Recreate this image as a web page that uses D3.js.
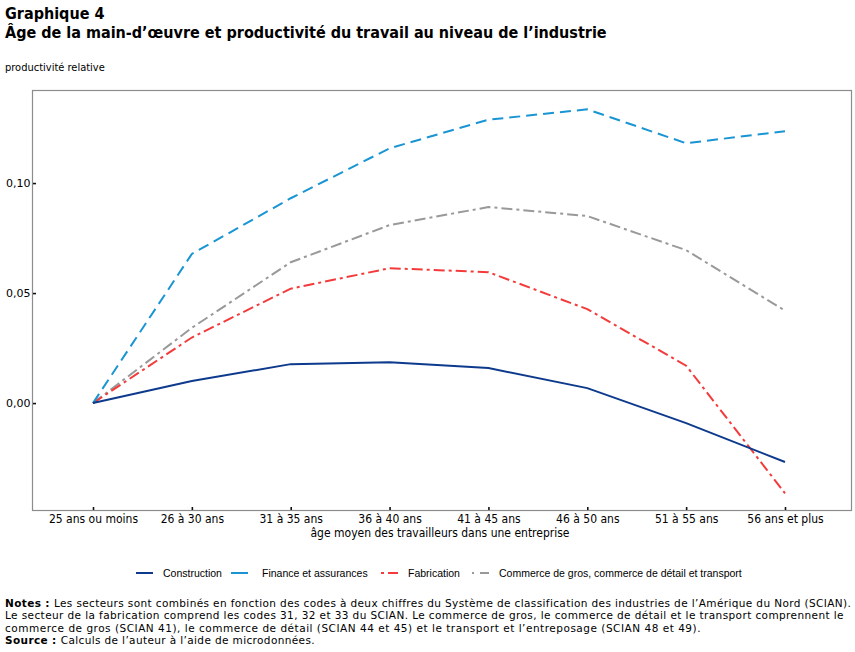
<!DOCTYPE html>
<html><head><meta charset="utf-8">
<script src="https://cdn.jsdelivr.net/npm/d3@7"></script>
<style>
body{margin:0;background:#fff;}
svg text{fill:#000;}
</style></head>
<body><div id="chart"></div>
<script>
const categories = ["25 ans ou moins","26 à 30 ans","31 à 35 ans","36 à 40 ans","41 à 45 ans","46 à 50 ans","51 à 55 ans","56 ans et plus"];
const construction = [0, 0.0100, 0.0177, 0.0186, 0.0159, 0.0068, -0.0091, -0.0268];
const finance = [0, 0.0678, 0.0931, 0.1158, 0.1288, 0.1335, 0.1181, 0.1236];
const fabrication = [0, 0.0298, 0.0520, 0.0613, 0.0595, 0.0427, 0.0170, -0.0410];
const commerce = [0, 0.0342, 0.0640, 0.0809, 0.0891, 0.0850, 0.0695, 0.0420];
const yTicks = [0, 0.05, 0.10];
const seriesNames = ["Construction","Finance et assurances","Fabrication","Commerce de gros, commerce de détail et transport"];

const W = 855, H = 652;
const svg = d3.select("#chart").append("svg").attr("width", W).attr("height", H);
const fmain = "'DejaVu Sans Condensed','DejaVu Sans',sans-serif";

const panel = {left:32, right:852, top:90, bottom:511};
const x = d3.scalePoint().domain(categories).range([93, 785]);
const y = d3.scaleLinear().domain([-0.0486, 0.1423]).range([510, panel.top]);

// titles
svg.append("text").attr("x",5).attr("y",19).attr("font-family",fmain).attr("font-weight","bold").attr("font-size",16).text("Graphique 4");
svg.append("text").attr("x",5).attr("y",38).attr("font-family",fmain).attr("font-weight","bold").attr("font-size",16).text("Âge de la main-d’œuvre et productivité du travail au niveau de l’industrie");
svg.append("text").attr("x",5).attr("y",71).attr("font-family",fmain).attr("font-size",11).text("productivité relative");

// panel border
svg.append("rect").attr("x",panel.left+0.5).attr("y",panel.top+0.5).attr("width",panel.right-panel.left-1).attr("height",panel.bottom-panel.top-1)
  .attr("fill","none").attr("stroke","#8c8c8c").attr("stroke-width",1.2);

// y axis
const yAxis = d3.axisLeft(y).tickValues(yTicks).tickSizeInner(-3).tickSizeOuter(0).tickPadding(2.5)
  .tickFormat(d => d3.format(".2f")(d).replace(".", ","));
const gy = svg.append("g").attr("transform",`translate(${panel.left+1},0)`).call(yAxis);
gy.select(".domain").remove();
gy.selectAll("line").attr("stroke","#111").attr("stroke-width",1.6);
gy.selectAll("text").attr("font-family","'DejaVu Sans',sans-serif").attr("font-size",11).attr("fill","#222");

// x axis
const xAxis = d3.axisBottom(x).tickSizeInner(-3).tickSizeOuter(0).tickPadding(4);
const gx = svg.append("g").attr("transform",`translate(0,${panel.bottom-1})`).call(xAxis);
gx.select(".domain").remove();
gx.selectAll("line").attr("stroke","#111").attr("stroke-width",1.6);
gx.selectAll("text").attr("font-family",fmain).attr("font-size",12).attr("fill","#222");
svg.append("text").attr("x",(93+785)/2+1).attr("y",537).attr("text-anchor","middle").attr("font-family",fmain).attr("font-size",12).text("âge moyen des travailleurs dans une entreprise");

// lines
const series = [
  {name:seriesNames[0], values:construction, color:"#0d3a8c", dash:null},
  {name:seriesNames[1], values:finance, color:"#1a95d3", dash:"11,6"},
  {name:seriesNames[2], values:fabrication, color:"#f43b3b", dash:"11,4,3,4"},
  {name:seriesNames[3], values:commerce, color:"#999999", dash:"11,4,3,4"}
];
const line = d3.line().x((d,i)=>x(categories[i])).y(d=>y(d));
const order = [3,2,1,0];
order.forEach(k => {
  const s = series[k];
  svg.append("path").datum(s.values).attr("d",line).attr("fill","none")
    .attr("stroke",s.color).attr("stroke-width",2).attr("stroke-dasharray",s.dash);
});

// legend
const legPos = [{sx:136, tx:163},{sx:231, tx:262},{sx:381, tx:408},{sx:472, tx:499}];
series.forEach((s,i) => {
  const g = svg.append("g");
  g.append("line").attr("x1",legPos[i].sx).attr("x2",legPos[i].sx+17).attr("y1",573).attr("y2",573)
    .attr("stroke",s.color).attr("stroke-width",2).attr("stroke-dasharray", i==0?null:(i==1?"17":(i==2?"3,4,10":"2,6,9")));
  g.append("text").attr("x",legPos[i].tx).attr("y",577).attr("font-family","'Liberation Sans',Arial,sans-serif").attr("font-size",10.5).attr("fill","#222").text(s.name);
});

// notes
const notes = [
  [{b:true,t:"Notes : "},{b:false,t:"Les secteurs sont combinés en fonction des codes à deux chiffres du Système de classification des industries de l’Amérique du Nord (SCIAN)."}],
  [{b:false,t:"Le secteur de la fabrication comprend les codes 31, 32 et 33 du SCIAN. Le commerce de gros, le commerce de détail et le transport comprennent le"}],
  [{b:false,t:"commerce de gros (SCIAN 41), le commerce de détail (SCIAN 44 et 45) et le transport et l’entreposage (SCIAN 48 et 49)."}],
  [{b:true,t:"Source : "},{b:false,t:"Calculs de l’auteur à l’aide de microdonnées."}]
];
const noteWidths = [846, 839, 696, 310];
notes.forEach((ln,i) => {
  const t = svg.append("text").attr("x",5).attr("y",607+i*12.3).attr("font-family","'DejaVu Sans',sans-serif").attr("font-size",10.5);
  ln.forEach(p => t.append("tspan").attr("font-weight",p.b?"bold":"normal").text(p.t));
  const nat = t.node().getComputedTextLength();
  const n = ln.reduce((a,p)=>a+p.t.length,0);
  const ls = (noteWidths[i]-nat)/n;
  t.attr("letter-spacing", Math.max(0, ls));
});
</script></body></html>
